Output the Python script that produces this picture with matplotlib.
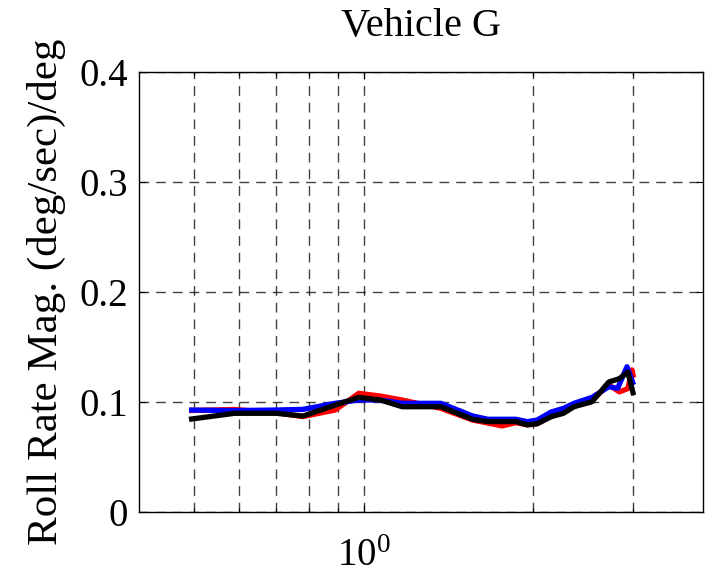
import matplotlib
matplotlib.use("Agg")
import matplotlib.pyplot as plt
from matplotlib.ticker import FixedLocator, NullFormatter, FixedFormatter

title = "Vehicle G"
ylabel = "Roll Rate Mag. (deg/sec)/deg"

freq_red = [0.49, 0.59, 0.70, 0.78, 0.89, 0.98, 1.07, 1.17, 1.37, 1.56, 1.76, 1.86, 1.95, 2.03, 2.15, 2.26, 2.36, 2.54, 2.72, 2.84, 2.94, 2.99, 3.01]
mag_red = [0.092, 0.093, 0.090, 0.0865, 0.0925, 0.1077, 0.1052, 0.1016, 0.094, 0.0834, 0.078, 0.081, 0.079, 0.080, 0.087, 0.091, 0.097, 0.1016, 0.1153, 0.109, 0.112, 0.129, 0.122]

freq_blue = [0.49, 0.59, 0.70, 0.78, 0.89, 0.98, 1.07, 1.17, 1.37, 1.56, 1.66, 1.86, 1.95, 2.03, 2.15, 2.26, 2.36, 2.54, 2.72, 2.82, 2.93, 3.01]
mag_blue = [0.0925, 0.092, 0.0925, 0.0931, 0.0986, 0.1016, 0.1016, 0.0986, 0.0986, 0.0871, 0.0841, 0.0841, 0.0819, 0.0834, 0.0907, 0.094, 0.0986, 0.104, 0.1137, 0.1122, 0.1319, 0.1153]

freq_black = [0.49, 0.59, 0.70, 0.78, 0.89, 0.98, 1.07, 1.17, 1.37, 1.56, 1.66, 1.86, 1.95, 2.03, 2.15, 2.26, 2.36, 2.54, 2.72, 2.84, 2.94, 3.01]
mag_black = [0.084, 0.0895, 0.0895, 0.087, 0.097, 0.104, 0.1016, 0.0955, 0.0955, 0.084, 0.082, 0.082, 0.079, 0.080, 0.0864, 0.0895, 0.0955, 0.100, 0.118, 0.121, 0.127, 0.106]

yticks = [0, 0.1, 0.2, 0.3, 0.4]
ytick_labels = ["0", "0.1", "0.2", "0.3", "0.4"]
xmajor = [1.0]
xmajor_labels = ["$\\mathregular{10^{0}}$"]
xminor = [0.5, 0.6, 0.7, 0.8, 0.9, 2, 3]

plt.rcParams['font.family'] = ['Liberation Serif', 'DejaVu Serif']
plt.rcParams['mathtext.fontset'] = 'custom'
plt.rcParams['mathtext.rm'] = 'Liberation Serif'

fig = plt.figure(figsize=(7.05, 5.82), dpi=100)
ax = fig.add_axes([0.1976, 0.1208, 0.7999, 0.7555])

ax.plot(freq_red, mag_red, color='#ff0000', lw=3.8, solid_joinstyle='round', solid_capstyle='butt')
ax.plot(freq_blue, mag_blue, color='#0000ff', lw=3.8, solid_joinstyle='round', solid_capstyle='butt')
ax.plot(freq_black, mag_black, color='#000000', lw=3.8, solid_joinstyle='round', solid_capstyle='butt')

ax.set_xscale('log')
ax.set_xlim(0.4, 4.0)
ax.set_ylim(0, 0.4)

ax.xaxis.set_major_locator(FixedLocator(xmajor))
ax.xaxis.set_major_formatter(FixedFormatter(xmajor_labels))
ax.xaxis.set_minor_locator(FixedLocator(xminor))
ax.xaxis.set_minor_formatter(NullFormatter())
ax.set_yticks(yticks)
ax.set_yticklabels(ytick_labels)

gridkw = dict(color='black', linestyle=(0, (7, 5)), linewidth=1.0, alpha=0.75)
ax.grid(True, which='major', **gridkw)
ax.grid(True, which='minor', axis='x', **gridkw)

ax.tick_params(which='both', direction='in', top=True, right=True, width=0.8, labelsize=28)
ax.tick_params(which='major', length=5)
ax.tick_params(which='minor', length=3)
ax.tick_params(axis='y', pad=8)
ax.tick_params(axis='x', pad=19)
for s in ax.spines.values():
    s.set_linewidth(1.0)

ax.set_title(title, fontsize=29, pad=26)
ax.set_ylabel(ylabel, fontsize=31, labelpad=10)

fig.savefig("out.png", dpi=100)
